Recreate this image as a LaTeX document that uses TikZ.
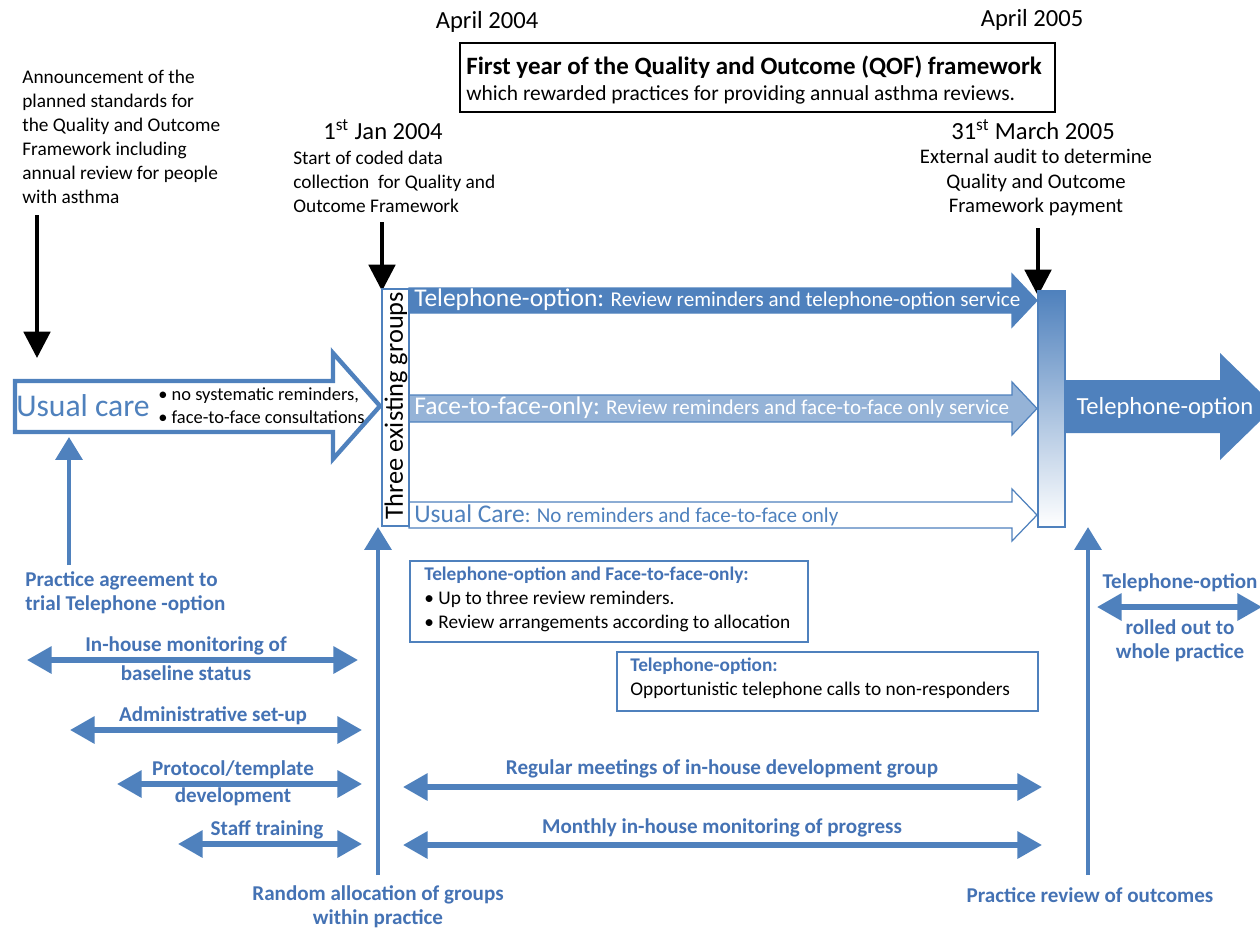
\documentclass[tikz,border=0pt]{standalone}
\usepackage{fontspec}
\setmainfont{Carlito}
\usetikzlibrary{arrows.meta}
\definecolor{qblue}{HTML}{4F81BD}
\definecolor{qlight}{HTML}{95B3D7}
\definecolor{qtext}{HTML}{4472B4}
\tikzset{
	blk/.style={line width=2.3pt,-{Triangle[width=15pt,length=15pt]}},
	upar/.style={qblue,line width=2.8pt,-{Triangle[width=15pt,length=13pt]}},
	dbl/.style={qblue,line width=3pt,{Triangle[width=15pt,length=14pt]}-{Triangle[width=15pt,length=14pt]}},
	lbl/.style={text=qtext,font=\bfseries\fontsize{12}{13.6}\selectfont,align=center,inner sep=0pt},
	txt/.style={font=\fontsize{11}{13.6}\selectfont,inner sep=0pt},
	big/.style={font=\fontsize{14}{16}\selectfont,inner sep=0pt},
	band/.style={line width=0.7pt,draw=qblue},
}
\begin{document}
\begin{tikzpicture}[x=0.02cm,y=-0.02cm]
	\useasboundingbox (0,0) rectangle (1260,933);
	%dates and QOF box
	\node[big] (apr4) at (487,22) {April 2004};
	\node[big] (apr5) at (1032,20) {April 2005};
	\draw[line width=1.4pt] (460,43) rectangle (1055,112);
	\node[anchor=west,inner sep=0pt,font=\bfseries\fontsize{14.2}{16}\selectfont] (qof) at (466,67) {First year of the Quality and Outcome (QOF) framework};
	\node[anchor=west,inner sep=0pt,font=\fontsize{12.2}{14}\selectfont] (qofsub) at (466,95) {which rewarded practices for providing annual asthma reviews.};
	%announcement
	\node[txt,anchor=north west,align=left] (ann) at (22,70) {Announcement of the\\planned standards for\\the Quality and Outcome\\Framework including\\annual review for people\\with asthma};
	\coordinate (anns) at (37,215);
	\coordinate (anne) at (37,358);
	\draw[blk] (anns) -- (anne);
	%start of data collection
	\node[big] (jan) at (383,130) {1\textsuperscript{st} Jan 2004};
	\node[txt,anchor=north west,align=left] (start) at (293,151) {Start of coded data\\collection\ \ for Quality and\\Outcome Framework};
	\coordinate (starts) at (382,222);
	\coordinate (starte) at (382,291);
	\draw[blk] (starts) -- (starte);
	%audit
	\node[big] (mar) at (1033,130) {31\textsuperscript{st} March 2005};
	\node[anchor=north,align=center,inner sep=0pt,font=\fontsize{11.8}{13.9}\selectfont] (audit) at (1036,149) {External audit to determine\\Quality and Outcome\\Framework payment};
	\coordinate (audits) at (1038,228);
	\coordinate (audite) at (1038,296);
	\draw[blk] (audits) -- (audite);
	%usual care arrow
	\draw[qblue,line width=2.5pt,fill=white] (15,381) -- (333,381) -- (333,353) -- (380,406) -- (333,459) -- (333,432) -- (15,432) -- cycle;
	\node[text=qblue,inner sep=0pt,font=\fontsize{18}{20}\selectfont] (usual) at (83,406) {Usual care};
	\node[txt,anchor=west,align=left,font=\fontsize{10.5}{13}\selectfont] (usualtxt) at (158,406) {\textbullet\ no systematic reminders,\\\textbullet\ face-to-face consultations};
	%three groups
	\draw[band,fill=qblue] (409,288) -- (1012,288) -- (1012,274) -- (1037,300.5) -- (1012,327) -- (1012,313) -- (409,313) -- cycle;
	\draw[band,fill=qlight] (409,395) -- (1012,395) -- (1012,382) -- (1037,408.5) -- (1012,435) -- (1012,422) -- (409,422) -- cycle;
	\draw[band,fill=white] (409,502) -- (1012,502) -- (1012,489) -- (1037,515) -- (1012,541) -- (1012,528) -- (409,528) -- cycle;
	\draw[qblue,line width=1.5pt,fill=white] (382,289) rectangle (409,526);
	\node[rotate=90,inner sep=0pt,font=\fontsize{15}{17}\selectfont] (three) at (396,406) {Three existing groups};
	\node[anchor=west,inner sep=0pt,text=white,font=\fontsize{12}{14}\selectfont] (tel) at (414,300) {{\fontsize{14.5}{16}\selectfont Telephone-option:} Review reminders and telephone-option service};
	\node[anchor=west,inner sep=0pt,text=white,font=\fontsize{12}{14}\selectfont] (f2f) at (414,408) {{\fontsize{14.5}{16}\selectfont Face-to-face-only:} Review reminders and face-to-face only service};
	\node[anchor=west,inner sep=0pt,text=qblue,font=\fontsize{12}{14}\selectfont] (uc) at (414,515) {{\fontsize{14.5}{16}\selectfont Usual Care}: No reminders and face-to-face only};
	%end of year bar and roll out arrow
	\shade[top color=qblue,bottom color=white] (1038,291) rectangle (1065,527);
	\draw[qblue,line width=0.7pt] (1038,291) rectangle (1065,527);
	\fill[qblue] (1065,380) -- (1220,380) -- (1220,353) -- (1275,406.5) -- (1220,460) -- (1220,433) -- (1065,433) -- cycle;
	\node[text=white,inner sep=0pt,font=\fontsize{14}{16}\selectfont] (rolltel) at (1165,408) {Telephone-option};
	%blue upward arrows
	\coordinate (agrees) at (69,565);
	\coordinate (agreee) at (69,437);
	\draw[upar] (agrees) -- (agreee);
	\node[lbl,align=left,anchor=north west] (agree) at (25,571) {Practice agreement to\\trial Telephone -option};
	\coordinate (rands) at (378,875);
	\coordinate (rande) at (378,527);
	\draw[upar] (rands) -- (rande);
	\node[lbl,anchor=north] (rand) at (378,885) {Random allocation of groups\\within practice};
	\coordinate (revs) at (1088,875);
	\coordinate (reve) at (1088,527);
	\draw[upar] (revs) -- (reve);
	\node[lbl,anchor=north] (rev) at (1090,887) {Practice review of outcomes};
	%preparation arrows
	\coordinate (m1l) at (27,660);
	\coordinate (m1r) at (358,660);
	\draw[dbl] (m1l) -- (m1r);
	\node[lbl] (m1a) at (186,646) {In-house monitoring of};
	\node[lbl] (m1b) at (186,673) {baseline status};
	\coordinate (adl) at (70,730);
	\coordinate (adr) at (362,730);
	\draw[dbl] (adl) -- (adr);
	\node[lbl] (ad) at (213,716) {Administrative set-up};
	\coordinate (prl) at (117,784);
	\coordinate (prr) at (362,784);
	\draw[dbl] (prl) -- (prr);
	\node[lbl] (pra) at (233,770) {Protocol/template};
	\node[lbl] (prb) at (233,797) {development};
	\coordinate (stl) at (178,844);
	\coordinate (str) at (362,844);
	\draw[dbl] (stl) -- (str);
	\node[lbl] (st) at (267,830) {Staff training};
	%during the year
	\coordinate (rgl) at (403,787);
	\coordinate (rgr) at (1042,787);
	\draw[dbl] (rgl) -- (rgr);
	\node[lbl] (rg) at (722,769) {Regular meetings of in-house development group};
	\coordinate (mol) at (403,845);
	\coordinate (mor) at (1042,845);
	\draw[dbl] (mol) -- (mor);
	\node[lbl] (mo) at (722,828) {Monthly in-house monitoring of progress};
	%roll out
	\coordinate (rol) at (1097,607);
	\coordinate (ror) at (1262,607);
	\draw[dbl] (rol) -- (ror);
	\node[lbl] (roa) at (1180,583) {Telephone-option};
	\node[lbl] (rob) at (1180,641) {rolled out to\\whole practice};
	%boxes
	\draw[qblue,line width=0.8pt] (410,561) rectangle (808,642);
	\node[anchor=north west,align=left,inner sep=0pt,font=\fontsize{11}{13.6}\selectfont] (box1) at (424,567) {{\bfseries\color{qtext}Telephone-option and Face-to-face-only:}\\\textbullet\ Up to three review reminders.\\\textbullet\ Review arrangements according to allocation};
	\draw[qblue,line width=0.8pt] (617,652) rectangle (1038,711);
	\node[anchor=north west,align=left,inner sep=0pt,font=\fontsize{11}{13.6}\selectfont] (box2) at (630,658) {{\bfseries\color{qtext}Telephone-option:}\\Opportunistic telephone calls to non-responders};
\end{tikzpicture}
\end{document}
